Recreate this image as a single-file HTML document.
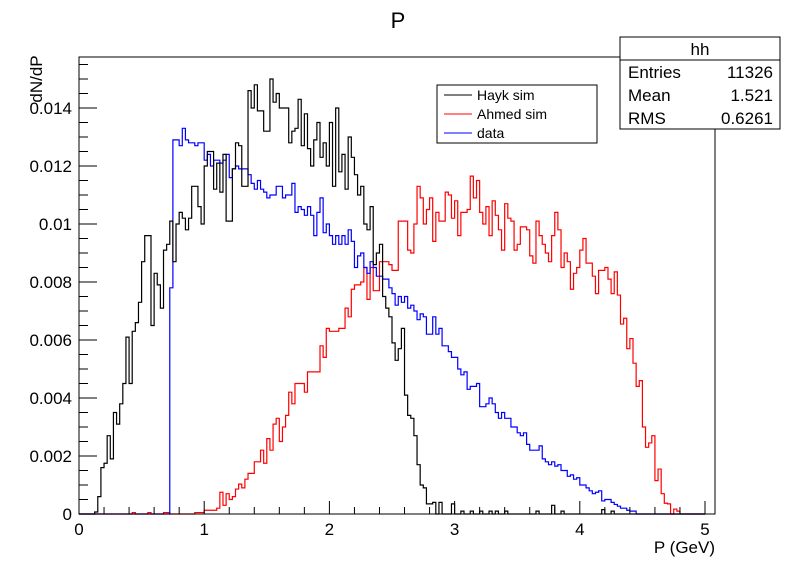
<!DOCTYPE html>
<html><head><meta charset="utf-8"><style>
html,body{margin:0;padding:0;background:#fff;}
svg{display:block;font-family:"Liberation Sans",sans-serif;}
</style></head><body>
<svg id="chart" width="796" height="572" viewBox="0 0 796 572" xmlns="http://www.w3.org/2000/svg">
<rect x="0" y="0" width="796" height="572" fill="#fff"/>
<text x="398" y="28" font-size="22" text-anchor="middle">P</text>
<g id="marks"></g>
<rect x="79" y="57" width="636" height="457" fill="none" stroke="#000" stroke-width="1"/>
<g id="axes"></g>
<text x="715" y="553" font-size="17" text-anchor="end">P (GeV)</text>
<text transform="translate(42,79) rotate(-90)" font-size="17" text-anchor="middle">dN/dP</text>
<g>
<rect x="437" y="85" width="160" height="58" fill="#fff" stroke="#000" stroke-width="1"/>
<line x1="444" y1="95" x2="472" y2="95" stroke="#000"/>
<text x="477" y="100" font-size="14">Hayk sim</text>
<line x1="444" y1="114" x2="472" y2="114" stroke="#f00"/>
<text x="477" y="119" font-size="14">Ahmed sim</text>
<line x1="444" y1="133" x2="472" y2="133" stroke="#00f"/>
<text x="477" y="138" font-size="14">data</text>
</g>
<g>
<rect x="620" y="37" width="160" height="92" fill="#fff" stroke="#000" stroke-width="1"/>
<line x1="620" y1="60" x2="780" y2="60" stroke="#000"/>
<text x="700" y="55" font-size="17" text-anchor="middle">hh</text>
<text x="628" y="78" font-size="17">Entries</text>
<text x="773" y="78" font-size="17" text-anchor="end">11326</text>
<text x="628" y="101" font-size="17">Mean</text>
<text x="773" y="101" font-size="17" text-anchor="end">1.521</text>
<text x="628" y="124" font-size="17">RMS</text>
<text x="773" y="124" font-size="17" text-anchor="end">0.6261</text>
</g>
</svg>
<script>
// values in units of 1e-3 (dN/dP), 200 bins of 0.025 GeV from 0 to 5
const binWidth = 0.025;
const haykSim = [0,0,0,0,0,
0.07,0.6,1.6,1.75,2.7,1.9,3.5,3.1,3.8,4.5,6.1,4.5,6.3,6.6,7.3,8.7,9.6,9.6,6.5,8.3,7.9,7.1,9.1,9.3,10.1,8.7,
10.0,10.4,10.2,9.8,10.2,11.3,11.3,10.6,10.0,12.0,12.5,12.5,11.2,12.1,11.1,12.4,10.1,10.1,11.9,12.8,12.7,11.3,11.3,14.6,14.0,14.8,13.9,13.9,13.2,13.2,15.0,14.2,14.5,14.0,14.0,14.0,12.8,13.2,13.3,
14.3,12.7,13.8,12.6,12.0,12.9,13.5,12.3,12.8,12.0,13.5,11.3,14.0,11.8,12.4,11.2,13.0,12.3,11.7,11.0,11.3,10.0,9.8,10.6,8.6,9.0,9.3,7.5,7.1,6.8,5.9,5.3,5.7,6.4,4.1,3.4,3.3,2.7,1.7,1.0,0.9,0.35,0.35,0.4,0,0.4,0,
0,0,0.35,0,0,0.1,0,0,0.1,0,0,0.1,0,0,0.1,0,0.1,0,0,0.1,
0,0,0,0,0,0,0,0,0,0.1,0,0,0,0,0.3,0,0,0.1,0,0,0,0,0,0,0,0,0,0,0,0,0.15,0,0,0.1,
0,0,0,0,0,0,0,0,0,0,0,0,0,0,0,0,0,0,0,0,0,0,0,0,0,0,0,0,0];
const ahmedSim = [0,0,0,0,0,0,0,0,0,0,0,0,0,0,0,0,0,0.05,0,0,0,0,0.05,0,0,0,0,0.05,0.05,0,0,0,0,0,0,0,0,
0.05,0.05,0.05,0.13,0.13,0.13,0.13,0.2,0.75,0.3,0.7,0.5,0.6,0.86,1.03,0.9,1.2,1.4,1.4,1.8,1.8,2.2,1.75,2.6,2.2,3.1,3.3,2.5,3.0,3.4,
4.2,3.8,4.5,4.5,4.5,4.2,4.9,4.9,4.9,4.9,5.8,5.4,6.4,6.3,6.3,6.3,6.4,6.4,7.1,6.8,
7.75,7.9,7.9,8.0,8.5,7.4,8.5,7.7,7.7,8.7,8.7,8.7,8.6,8.4,8.4,10.1,10.1,10.1,9.1,9.0,
10.0,11.3,10.9,10.0,10.5,10.9,9.4,10.4,10.1,10.1,11.1,11.0,10.2,10.8,9.6,10.4,10.4,10.5,11.65,10.9,
11.5,10.4,10.0,10.6,9.6,10.8,10.3,9.8,9.1,10.7,
10.2,10.1,9.1,9.3,9.9,9.9,9.8,8.9,8.65,10.1,9.6,9.3,9.0,8.7,9.6,10.4,9.8,8.5,9.0,8.7,7.75,8.3,8.5,9.1,9.5,8.65,8.65,8.2,7.6,8.4,8.4,8.5,8.1,7.6,8.35,7.55,6.55,6.75,5.7,6.05,5.2,4.4,4.6,3.0,2.3,2.45,2.7,1.15,1.55,0.7,0.37,0.35,0,0.17,0.1,
0,0,0,0,0,0,0,0];
const dataHist = [0,0,0,0,0,0,0,0,0,0,0,0,0,0,0,0,0,0,0,0,0,0,0,0,0,0,0,0,0,7.8,
12.9,12.9,12.7,13.3,12.9,12.8,12.8,12.7,12.8,12.8,12.2,12.4,12.0,12.2,12.2,12.1,12.2,12.4,11.6,11.9,12.0,11.9,11.9,11.9,11.7,11.4,11.2,11.5,11.2,11.1,10.9,11.0,11.0,11.3,11.3,10.9,11.0,11.0,11.4,10.4,10.6,
10.5,10.3,10.6,10.3,9.6,10.4,10.9,9.7,10.0,9.6,9.3,9.6,9.3,9.6,9.3,9.8,9.4,8.5,8.9,9.0,8.5,8.3,8.7,8.5,8.2,8.2,8.1,8.1,7.8,7.6,7.2,7.5,7.3,7.5,7.1,7.2,7.0,6.7,6.9,6.8,6.2,6.2,6.8,6.2,6.4,5.8,5.8,5.6,5.4,5.4,5.0,4.8,4.9,4.3,4.4,4.4,4.5,3.7,3.7,3.8,4.0,3.8,3.5,3.3,
3.5,3.3,3.3,3.0,3.0,2.8,2.7,2.8,2.4,2.2,2.2,2.2,2.35,1.9,1.8,1.7,1.8,1.65,1.7,1.5,1.5,1.3,1.35,1.2,1.25,1.0,1.0,0.9,0.8,0.7,0.75,0.8,0.45,0.5,0.5,0.4,0.33,0.27,0.2,0.2,0.13,0.1,0.1,
0,0,0,0,0,0,0,0,0,0,0,0,0,0,0,0,0,0,0,0,0,0];
const xTickLabels = ["0","1","2","3","4","5"];
const yTickLabels = ["0","0.002","0.004","0.006","0.008","0.01","0.012","0.014"];

const NS = "http://www.w3.org/2000/svg";
const X0 = 79, XPX = 125.2, Y0 = 514, YPX = 29.0; // per GeV, per 1e-3
function xs(v){ return X0 + v * XPX; }
function ys(v){ return Y0 - v * YPX; }

const marks = document.getElementById('marks');
function drawHist(vals, color, name){
  let d = "M" + xs(0) + "," + ys(0);
  for (let i = 0; i < vals.length; i++){
    d += " L" + xs(i*binWidth).toFixed(2) + "," + ys(vals[i]).toFixed(2);
    d += " L" + xs((i+1)*binWidth).toFixed(2) + "," + ys(vals[i]).toFixed(2);
  }
  d += " L" + xs(vals.length*binWidth).toFixed(2) + "," + ys(0);
  const p = document.createElementNS(NS, 'path');
  p.setAttribute('d', d);
  p.setAttribute('fill', 'none');
  p.setAttribute('stroke', color);
  p.setAttribute('stroke-width', '1.2');
  
  
  marks.appendChild(p);
}
drawHist(ahmedSim, '#f00', 'ahmed-sim-histogram');
drawHist(dataHist, '#00f', 'data-histogram');
drawHist(haykSim, '#000', 'hayk-sim-histogram');

const axes = document.getElementById('axes');
function line(x1,y1,x2,y2){
  const l = document.createElementNS(NS,'line');
  l.setAttribute('x1',x1); l.setAttribute('y1',y1); l.setAttribute('x2',x2); l.setAttribute('y2',y2);
  l.setAttribute('stroke','#000'); l.setAttribute('stroke-width','1');
  
  
  axes.appendChild(l);
}
function text(x,y,s,anchor,name){
  const t = document.createElementNS(NS,'text');
  t.setAttribute('x',x); t.setAttribute('y',y); t.setAttribute('font-size','17');
  t.setAttribute('text-anchor',anchor); t.textContent = s;
  
  
  axes.appendChild(t);
}
for (let v = 0; v <= 5.08; v += 0.2){
  const major = Math.abs(v - Math.round(v)) < 1e-6;
  line(xs(v), Y0, xs(v), Y0 - (major ? 13 : 7));
}
xTickLabels.forEach((s,i)=> text(xs(i), 535, s, 'middle', 'x-tick-label'));
for (let v = 0; v <= 15.76; v += 0.5){
  const major = Math.abs(v/2 - Math.round(v/2)) < 1e-6;
  line(X0, ys(v), X0 + (major ? 18 : 9), ys(v));
}
yTickLabels.forEach((s,i)=> text(72, ys(i*2) + 6, s, 'end', 'y-tick-label'));
</script>
</body></html>
